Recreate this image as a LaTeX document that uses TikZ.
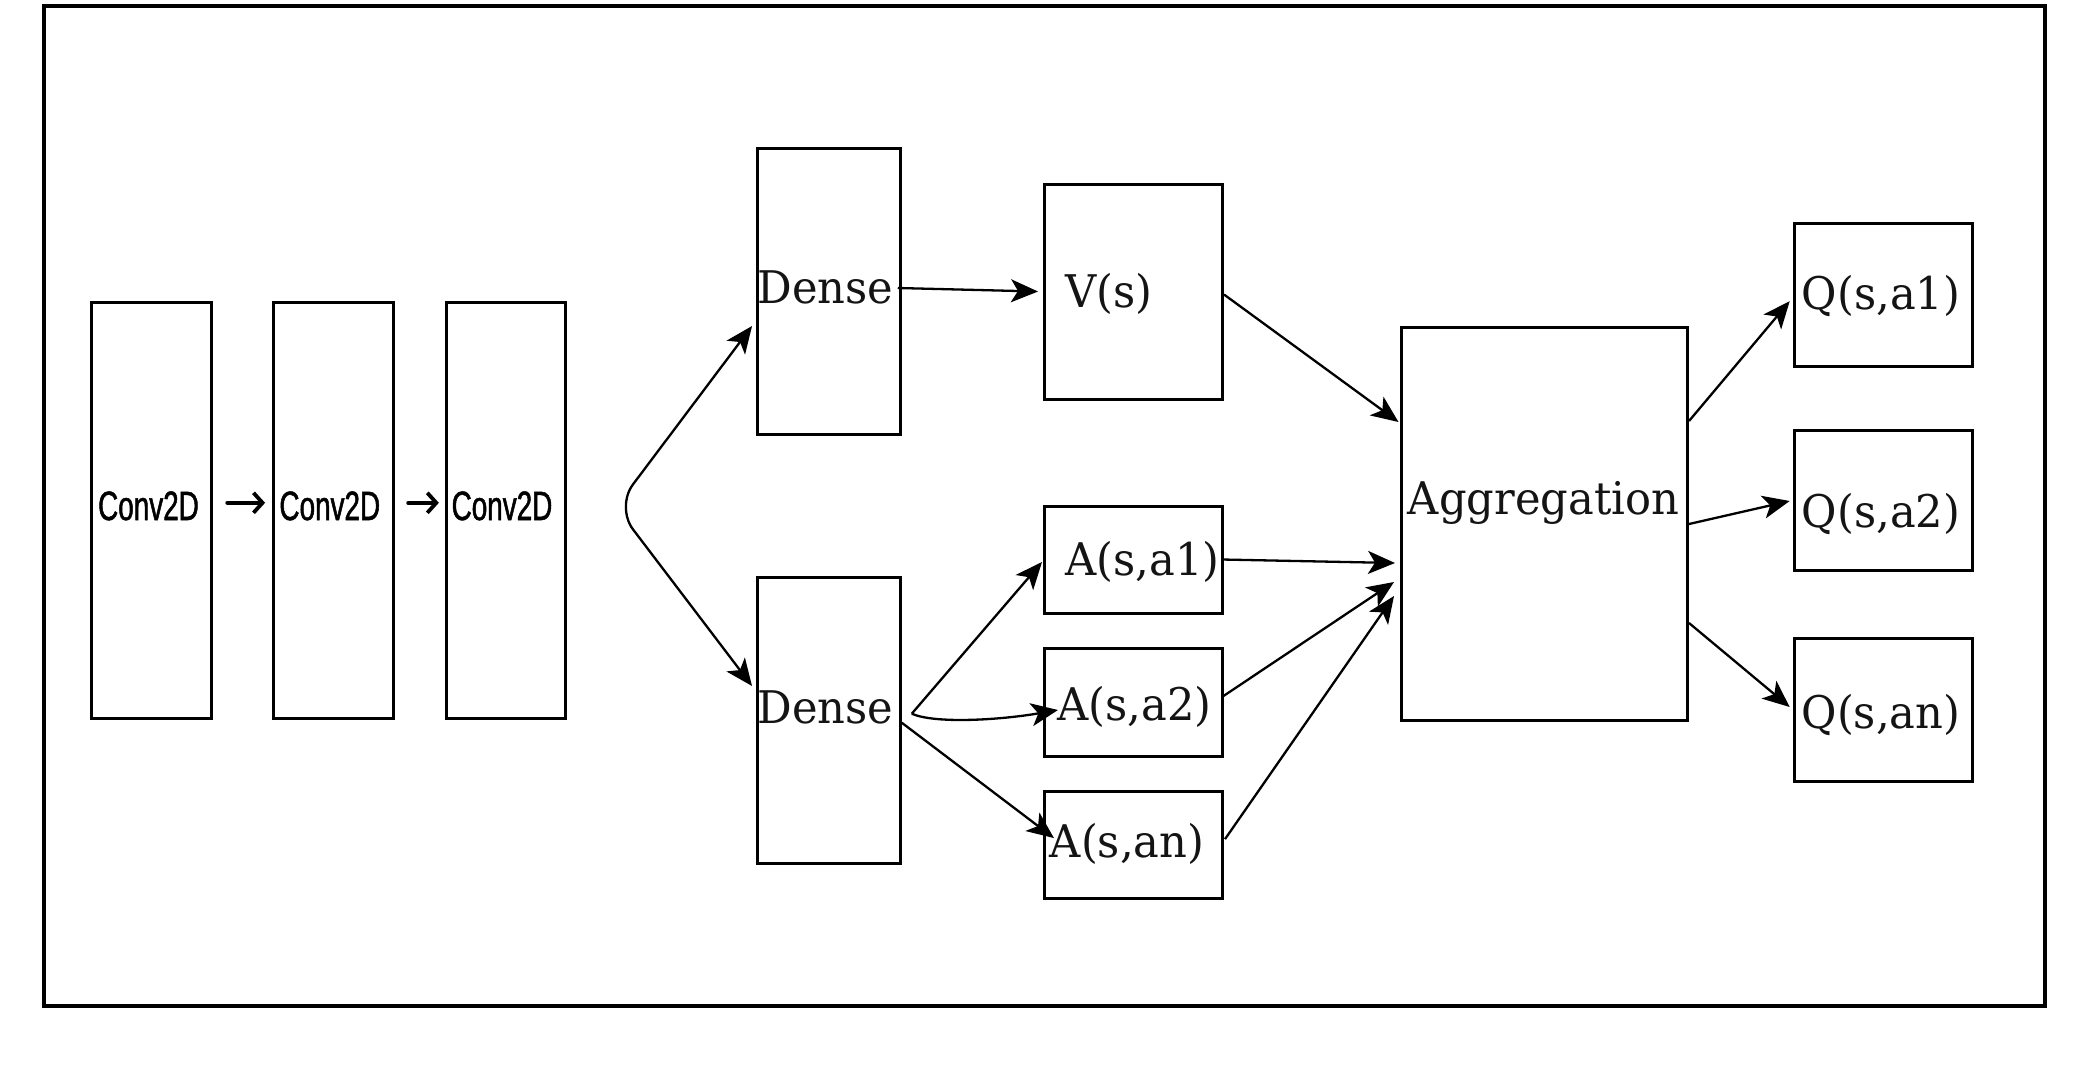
\documentclass[tikz,border=0pt]{standalone}
\usepackage{fontspec}
\usetikzlibrary{arrows.meta,calc}
\newfontfamily\labfont[FakeStretch=0.96]{DejaVu Serif}
\newfontfamily\handfont[FakeStretch=0.68,FakeBold=1.2]{Liberation Sans}
\begin{document}
\begin{tikzpicture}[x=1pt,y=-1pt,
  box/.style={draw, line width=3pt, inner sep=0pt, outer sep=0pt, rectangle},
  lab/.style={inner sep=0pt, anchor=base, font=\labfont\fontsize{45}{50}\selectfont, text=black!92},
  hand/.style={inner sep=0pt, anchor=base, font=\handfont\fontsize{41}{44}\selectfont},
  conn/.style={line width=2.3pt, -{Stealth[length=27pt,width=23pt,inset=7pt]}},
  hconn/.style={line width=3.8pt, line cap=round, -{Straight Barb[length=9pt,width=20pt,line width=3.8pt]}}]
\fill[white] (0,0) rectangle (2083,1066);
\useasboundingbox (0,0) rectangle (2083,1066);
\draw[line width=3.2pt] (44,6) rectangle (2045,1006);

% conv boxes
\node[box, minimum width=119.5pt, minimum height=415.8pt] (conv1) at (151.5,510.8) {};
\node[box, minimum width=119.5pt, minimum height=415.8pt] (conv2) at (333.4,510.8) {};
\node[box, minimum width=119.5pt, minimum height=415.8pt] (conv3) at (506.1,510.8) {};
\node[hand] (conv1t) at (148.5,520) {Conv2D};
\node[hand] (conv2t) at (329.8,520) {Conv2D};
\node[hand] (conv3t) at (502,520) {Conv2D};

% dense
\node[box, minimum width=143.7pt, minimum height=285.6pt] (dense1) at (828.9,291.6) {};
\node[box, minimum width=143.7pt, minimum height=285.6pt] (dense2) at (828.9,720.7) {};
\node[lab] (dense1t) at (825.5,303) {Dense};
\node[lab] (dense2t) at (825.5,723.5) {Dense};

% V and A
\node[box, minimum width=178pt, minimum height=215pt] (vs) at (1133,291.5) {};
\node[box, minimum width=178pt, minimum height=107pt] (a1) at (1133,559.5) {};
\node[box, minimum width=178pt, minimum height=108pt] (a2) at (1133,702.5) {};
\node[box, minimum width=178pt, minimum height=107pt] (an) at (1133,845.1) {};
\node[lab] (vst) at (1109,307) {V(s)};
\node[lab] (a1t) at (1142.5,575) {A(s,a1)};
\node[lab] (a2t) at (1134.5,720.5) {A(s,a2)};
\node[lab] (ant) at (1127,857.5) {A(s,an)};

% aggregation
\node[box, minimum width=285.5pt, minimum height=393pt] (agg) at (1544.25,523.5) {};
\node[lab] (aggt) at (1543.5,514) {Aggregation};

% Q
\node[box, minimum width=178pt, minimum height=143.5pt] (q1) at (1883.7,295.2) {};
\node[box, minimum width=178pt, minimum height=140pt] (q2) at (1883.7,500) {};
\node[box, minimum width=178pt, minimum height=143pt] (q3) at (1883.7,709.5) {};
\node[lab] (q1t) at (1881,309) {Q(s,a1)};
\node[lab] (q2t) at (1881,527) {Q(s,a2)};
\node[lab] (q3t) at (1881,728) {Q(s,an)};

% hand arrows
\draw[hconn] ([shift={(16,-8)}]conv1.east) -- ([shift={(-8.6,-8)}]conv2.west);
\draw[hconn] ([shift={(15,-8)}]conv2.east) -- ([shift={(-7.5,-8)}]conv3.west);

% split to dense
\coordinate (split) at (616,507);
\draw[line width=2.3pt, rounded corners=28pt, {Stealth[length=27pt,width=23pt,inset=7pt]}-{Stealth[length=27pt,width=23pt,inset=7pt]}]
  ([shift={(-5,-34.7)}]dense2.west) -- (split) -- ([shift={(-5,34.4)}]dense1.west);

% dense1 -> V
\draw[conn] ([shift={(-3,-3.6)}]dense1.east) -- ([shift={(-6,0)}]vs.west);

% dense2 -> A
\coordinate (fork) at ($(dense2.east)+(11,-7)$);
\draw[conn] (fork) -- ([shift={(-2,2.5)}]a1.west);
\draw[conn] (fork) .. controls (935,724) and (1000,720) .. ([shift={(14,7.5)}]a2.west);
\draw[conn] ([shift={(1,2)}]dense2.east) -- ([shift={(10,-7)}]an.west);

% to aggregation
\draw[conn] ([shift={(2,3)}]vs.east) -- ([shift={(-3,-101.5)}]agg.west);
\draw[conn] (a1.east) -- ([shift={(-6.5,39.5)}]agg.west);
\draw[conn] ([shift={(0,-5.5)}]a2.east) -- ([shift={(-7.5,58.5)}]agg.west);
\draw[conn] ([shift={(3,-6)}]an.east) -- ([shift={(-7.5,72.5)}]agg.west);

% to Q
\draw[conn] ([shift={(2,-102.5)}]agg.east) -- ([shift={(-5,6)}]q1.west);
\draw[conn] ([shift={(2,0.5)}]agg.east) -- ([shift={(-5,1)}]q2.west);
\draw[conn] ([shift={(2,99.5)}]agg.east) -- ([shift={(-5,-2.5)}]q3.west);
\end{tikzpicture}
\end{document}
